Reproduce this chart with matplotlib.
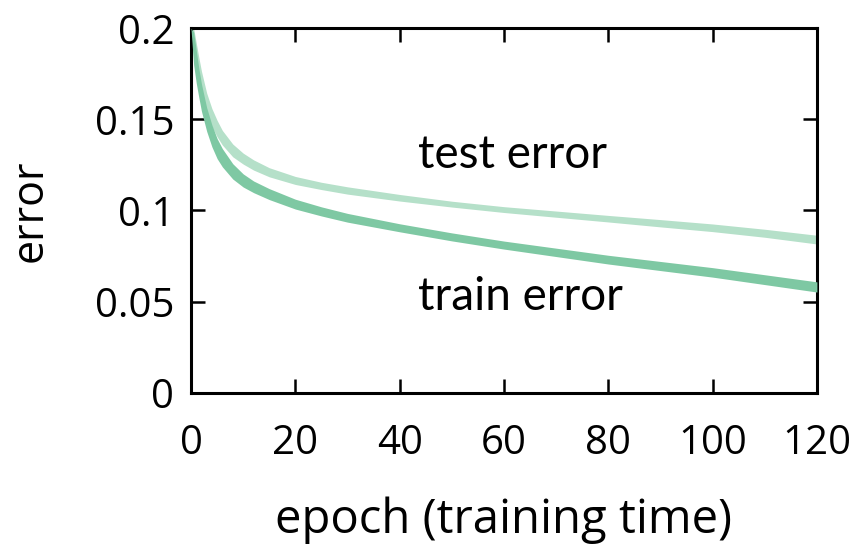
import numpy as np
import matplotlib
matplotlib.use('Agg')
import matplotlib.pyplot as plt

# error bands (min / max over runs) per epoch
epochs = [0, 0.5, 1, 1.5, 2, 3, 4, 5, 6, 8, 10, 12, 15, 20, 25, 30,
          40, 50, 60, 70, 80, 90, 100, 110, 120]
test_lo = [0.1995, 0.184, 0.176, 0.170, 0.1635, 0.1535, 0.146, 0.1405, 0.136,
           0.1295, 0.1255, 0.1222, 0.1185, 0.1143, 0.1115, 0.109, 0.1052,
           0.1019, 0.0989, 0.0963, 0.0937, 0.091, 0.0884, 0.0853, 0.0816]
test_hi = [0.2, 0.200, 0.192, 0.184, 0.1765, 0.1645, 0.156, 0.1495, 0.144,
           0.1365, 0.1315, 0.1278, 0.1235, 0.1187, 0.1155, 0.113, 0.1088,
           0.1051, 0.1021, 0.0997, 0.0973, 0.095, 0.0926, 0.0897, 0.0864]
train_lo = [0.1995, 0.180, 0.170, 0.162, 0.1545, 0.1435, 0.135, 0.1285, 0.124,
            0.1173, 0.1129, 0.1098, 0.106, 0.1008, 0.097, 0.0936, 0.0883,
            0.0833, 0.0788, 0.0747, 0.0706, 0.067, 0.0634, 0.0593, 0.0552]
train_hi = [0.2, 0.198, 0.188, 0.178, 0.1695, 0.1565, 0.147, 0.1395, 0.134,
            0.1257, 0.1201, 0.1162, 0.112, 0.1062, 0.102, 0.0984, 0.0927,
            0.0877, 0.0832, 0.0793, 0.0754, 0.072, 0.0686, 0.0647, 0.0608]

xticks = [0, 20, 40, 60, 80, 100, 120]
yticks = [0, 0.05, 0.1, 0.15, 0.2]
ytick_labels = ['0', '0.05', '0.1', '0.15', '0.2']

plt.rcParams['font.family'] = ['Open Sans', 'DejaVu Sans']

fig = plt.figure(figsize=(8.59, 5.53), dpi=100)
ax = fig.add_axes([0.2224, 0.2902, 0.7286, 0.6583])

# shaded bands
ax.fill_between(epochs, test_lo, test_hi, color='#b5e0c9', lw=0, zorder=2)
ax.fill_between(epochs, train_lo, train_hi, color='#7ec8a3', lw=0, zorder=3)

# curve labels
label_font = ['Lato', 'DejaVu Sans']
ax.text(43.5, 0.1305, 'test error', family=label_font,
        fontsize=33, ha='left', va='center')
ax.text(43.5, 0.0525, 'train error', family=label_font,
        fontsize=33, ha='left', va='center')

# axes and ticks
ax.set_xlim(0, 120)
ax.set_ylim(0, 0.2)
ax.set_xticks(xticks)
ax.set_yticks(yticks)
ax.set_yticklabels(ytick_labels)
ax.tick_params(direction='in', top=True, right=True, length=10, width=1.8,
               labelsize=29, pad=12)
ax.tick_params(axis='x', pad=22)
for spine in ax.spines.values():
    spine.set_linewidth(2.2)
ax.set_xlabel('epoch (training time)', fontsize=34, labelpad=24)
ax.set_ylabel('error', fontsize=31, labelpad=30)

fig.savefig('out.png', dpi=100)
